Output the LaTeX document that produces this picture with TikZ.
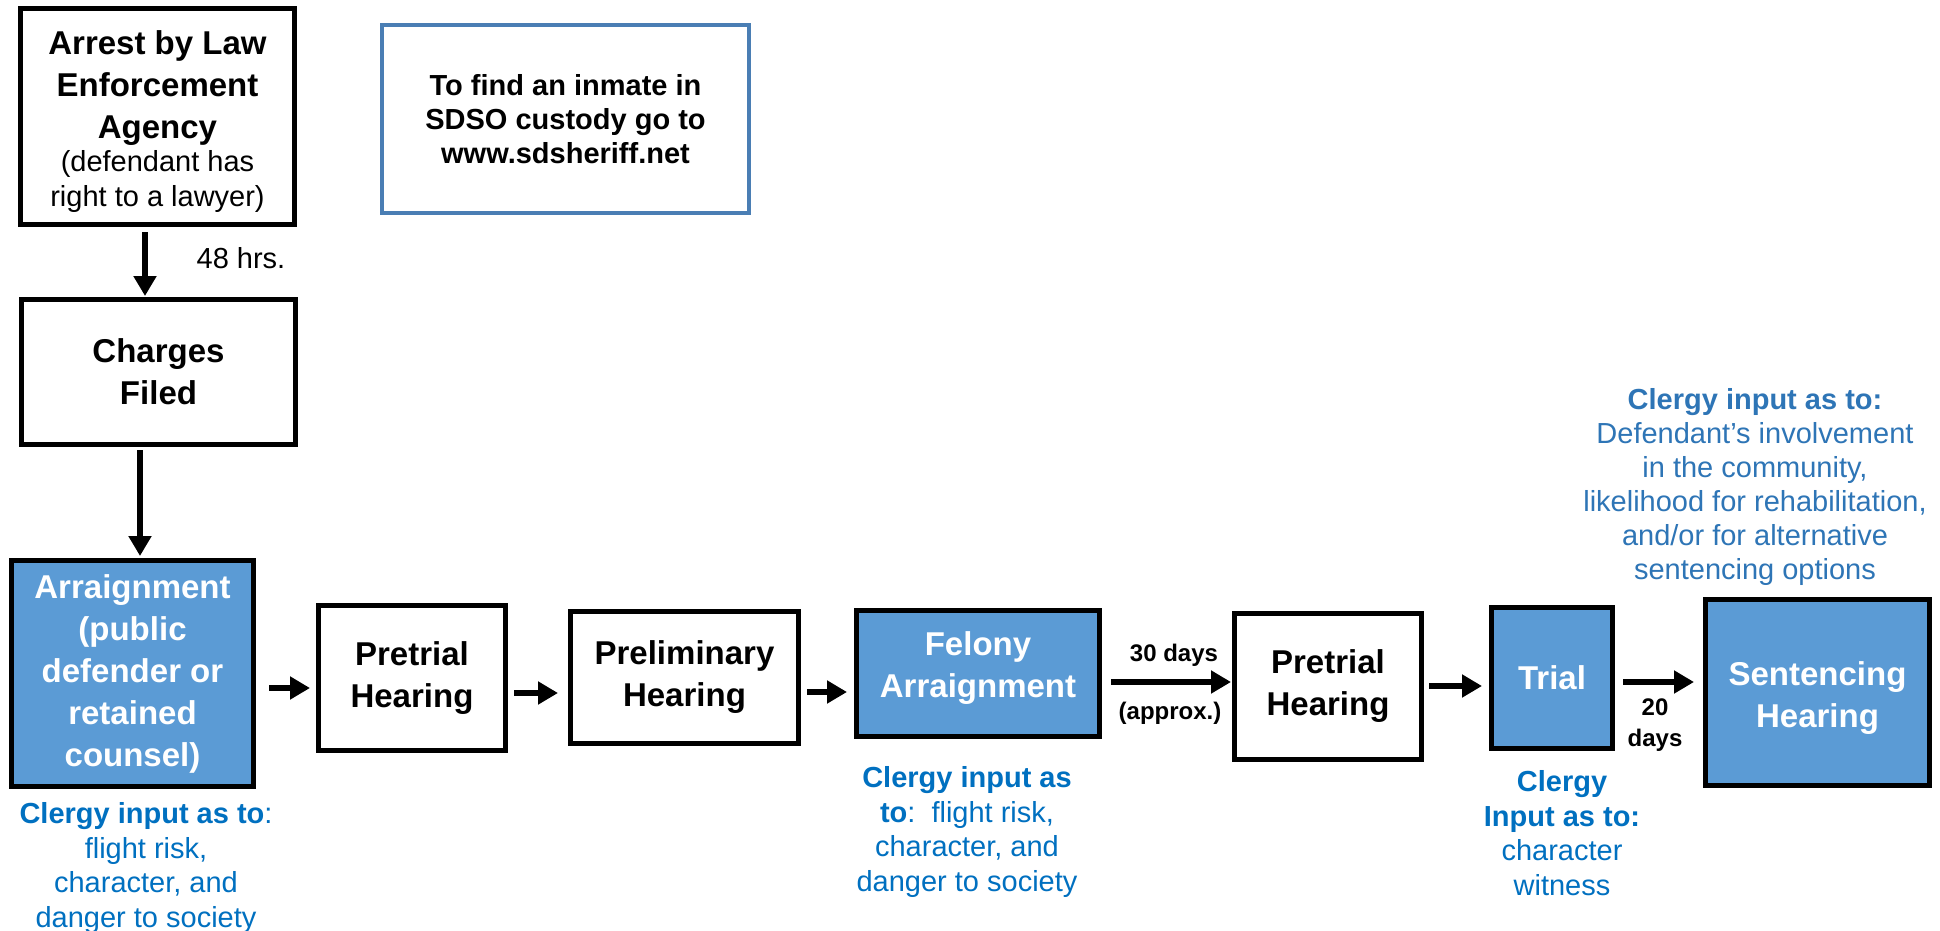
\documentclass[tikz,border=0pt]{standalone}
\usepackage{fontspec}
\setmainfont{Liberation Sans}
\usetikzlibrary{arrows.meta}
\definecolor{boxblue}{HTML}{5B9BD5}
\definecolor{infoblue}{HTML}{4A7EB4}
\definecolor{clergy}{HTML}{0070C0}
\definecolor{clergytop}{HTML}{2E75B6}
\newcommand{\bigbold}[1]{{\bfseries\fontsize{16.5}{21}\selectfont #1}}
\begin{document}
\begin{tikzpicture}[x=0.5pt,y=-0.5pt,
  box/.style={draw=black, line width=2.5pt, rectangle, inner sep=0pt, align=center,
    font=\bfseries\fontsize{16.5}{21}\selectfont},
  bluebox/.style={box, fill=boxblue, text=white},
  boxtext/.style={inner sep=0pt, align=center, font=\bfseries\fontsize{16.5}{21}\selectfont},
  arr/.style={line width=3pt, -{Triangle[length=10pt,width=11pt]}},
  clergytext/.style={align=center, text=clergy, inner sep=0pt, font=\fontsize{14.5}{17.25}\selectfont},
  smalllbl/.style={inner sep=0pt, font=\bfseries\fontsize{12}{15.5}\selectfont, align=center}
]
\useasboundingbox[fill=white] (0,0) rectangle (1940,931);

% boxes
\node[box, minimum width=137pt, minimum height=108pt] (arrest) at (157.5,116.5) {};
\node[boxtext, font=\fontsize{14.5}{17.5}\selectfont] (arresttext) at (157.5,121.5)
  {\bigbold{Arrest by Law}\\[3.5pt]\bigbold{Enforcement}\\[3.5pt]\bigbold{Agency}\\[-1pt](defendant has\\right to a lawyer)};
\node[draw=infoblue, line width=2pt, rectangle, inner sep=0pt, minimum width=183.5pt, minimum height=94pt,
  align=center, font=\bfseries\fontsize{14.5}{17}\selectfont] (info) at (565.5,119)
  {To find an inmate in\\SDSO custody go to\\www.sdsheriff.net};
\node[box, minimum width=137pt, minimum height=72.5pt] (charges) at (158.5,372) {Charges\\Filed};
\node[bluebox, minimum width=121pt, minimum height=113pt] (arraign) at (132.5,673.5)
  {Arraignment\\(public\\defender or\\retained\\counsel)};
\node[box, minimum width=93.5pt, minimum height=72.5pt] (pre1) at (412,678) {Pretrial\\Hearing};
\node[box, minimum width=114pt, minimum height=66pt] (prelim) at (684.5,677.5) {Preliminary\\Hearing};
\node[bluebox, minimum width=121.5pt, minimum height=63pt] (felony) at (978,673.5) {};
\node[boxtext, text=white] (felonytext) at (978,668) {Felony\\Arraignment};
\node[box, minimum width=93.5pt, minimum height=73pt] (pre2) at (1328,686.5) {Pretrial\\Hearing};
\node[bluebox, minimum width=60.5pt, minimum height=70.5pt] (trial) at (1552,678) {Trial};
\node[bluebox, minimum width=112pt, minimum height=93pt] (sent) at (1817.5,692.5) {};
\node[boxtext, text=white] (senttext) at (1817.5,698) {Sentencing\\Hearing};

% arrows
\draw[arr] ([shift={(-12.5,5)}]arrest.south) -- ([shift={(-13.5,-1)}]charges.north);
\draw[arr] ([shift={(-18.5,3)}]charges.south) -- ([shift={(7.5,-2)}]arraign.north);
\draw[arr] ([shift={(13,14.5)}]arraign.east) -- ([shift={(-6,10)}]pre1.west);
\draw[arr] ([shift={(6,15)}]pre1.east) -- ([shift={(-10,15.5)}]prelim.west);
\draw[arr] ([shift={(6,14.5)}]prelim.east) -- ([shift={(-7,18.5)}]felony.west);
\draw[arr] ([shift={(9,8.5)}]felony.east) -- ([shift={(-1,-4.5)}]pre2.west);
\draw[arr] ([shift={(5,-0.5)}]pre2.east) -- ([shift={(-7,8)}]trial.west);
\draw[arr] ([shift={(8,4)}]trial.east) -- ([shift={(-9,-10.5)}]sent.west);

% labels
\node[inner sep=0pt, font=\fontsize{14.5}{17.5}\selectfont] (hrs) at (241,258) {48 hrs.};
\node[smalllbl] (days30) at (1174,655) {30 days};
\node[smalllbl] (approx) at (1170,713) {(approx.)};
\node[smalllbl] (days20) at (1655,725) {20\\days};

% clergy texts
\node[clergytext] (c1) at (146,868)
  {\textbf{Clergy input as to}:\\flight risk,\\character, and\\danger to society};
\node[clergytext] (c2) at (967,832)
  {\textbf{Clergy input as}\\\textbf{to}:\ \ flight risk,\\character, and\\danger to society};
\node[clergytext] (c3) at (1562,833)
  {\textbf{Clergy}\\\textbf{Input as to:}\\character\\witness};
\node[clergytext, text=clergytop, font=\fontsize{14.5}{17}\selectfont] (c4) at (1755,487)
  {\textbf{Clergy input as to:}\\Defendant’s involvement\\in the community,\\likelihood for rehabilitation,\\and/or for alternative\\sentencing options};
\end{tikzpicture}
\end{document}
